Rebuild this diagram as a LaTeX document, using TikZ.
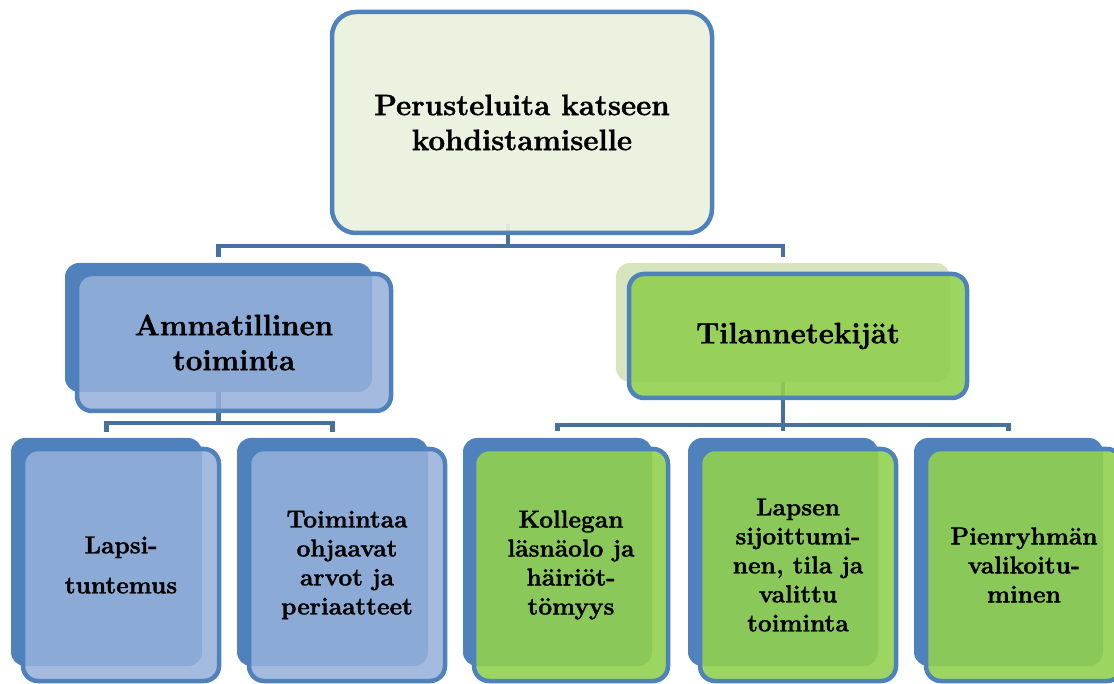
\documentclass[tikz,border=0pt]{standalone}
\usepackage{fontspec}
\setmainfont{Latin Modern Roman}[BoldFeatures={FakeBold=1.3}]
\definecolor{boxblue}{RGB}{79,129,189}
\definecolor{lightblue}{RGB}{150,177,218}
\definecolor{greenfront}{RGB}{146,208,80}
\definecolor{palegreen}{RGB}{215,228,189}
\definecolor{topfill}{RGB}{235,241,222}
\definecolor{connblue}{RGB}{70,112,160}
\tikzset{
  conn/.style={draw=connblue, line width=4.5pt},
  backblue/.style={fill=boxblue, rounded corners=14pt, inner sep=0pt},
  backgreen/.style={fill=palegreen, rounded corners=14pt, inner sep=0pt},
  frontbox/.style={draw=boxblue, line width=4.5pt, rounded corners=15pt, text opacity=1, align=center, inner sep=0pt},
  frontblue/.style={frontbox, fill=lightblue, fill opacity=0.87},
  frontgreen/.style={frontbox, fill=greenfront, fill opacity=0.9},
  bigtext/.style={font=\bfseries\fontsize{29.5}{35}\selectfont},
  smalltext/.style={font=\bfseries\fontsize{24.5}{29}\selectfont}
}
\begin{document}
\begin{tikzpicture}[x=1pt,y=-1pt]
\useasboundingbox (0,0) rectangle (1114,684);
\clip (0,0) rectangle (1114,684);

% back boxes
\node[backblue, minimum width=307, minimum height=129] (ammback) at (218.5,327.5) {};
\node[backgreen, minimum width=334, minimum height=119] (tilback) at (783,322.5) {};
\node[backblue, minimum width=191, minimum height=228] (b1back) at (106.5,552) {};
\node[backblue, minimum width=191, minimum height=228] (b2back) at (332.5,552) {};
\node[backblue, minimum width=189, minimum height=228] (b3back) at (557.5,552) {};
\node[backblue, minimum width=190, minimum height=228] (b4back) at (783,552) {};
\node[backblue, minimum width=189, minimum height=228] (b5back) at (1008.5,552) {};

\coordinate (topc) at (522,122.5);
\coordinate (topdrop) at (508,224);
\coordinate (bus1) at (0,246);
\coordinate (bus2) at (0,423);
\coordinate (bus3) at (0,425);

% connectors
\draw[conn] (topdrop) -- (topdrop |- bus1);
\draw[conn] ([yshift=6pt]ammback.north) -- (ammback.north |- bus1) -- (tilback.north |- bus1) -- ([yshift=6pt]tilback.north);
\draw[conn] (ammback.south) -- (ammback.south |- bus2);
\draw[conn] ([yshift=6pt]b1back.north) -- (b1back.north |- bus2) -- (b2back.north |- bus2) -- ([yshift=6pt]b2back.north);
\draw[conn] (tilback.south) -- (tilback.south |- bus3);
\draw[conn] ([yshift=7pt]b3back.north) -- (b3back.north |- bus3) -- (b5back.north |- bus3) -- ([yshift=7pt]b5back.north);
\draw[conn] (b4back.north |- bus3) -- ([yshift=7pt]b4back.north);

% top box
\node[frontbox, fill=topfill, fill opacity=0.93, rounded corners=24pt, minimum width=380, minimum height=221, bigtext] (top) at (topc) {Perusteluita katseen\\kohdistamiselle};

% front boxes
\node[frontblue, minimum width=314, minimum height=137, bigtext] (amm) at (234,342.5) {Ammatillinen\\toiminta};
\node[frontgreen, minimum width=338, minimum height=124, bigtext] (til) at (798,336) {Tilannetekijät};

\node[frontblue, minimum width=196, minimum height=232, smalltext] (b1) at (121,565) {Lapsi-\\[11pt]tuntemus};
\node[frontblue, minimum width=196, minimum height=232, smalltext] (b2) at (347,565) {Toimintaa\\ohjaavat\\arvot ja\\periaatteet};
\node[frontgreen, minimum width=194, minimum height=232, smalltext] (b3) at (571,565) {Kollegan\\läsnäolo ja\\häiriöt-\\tömyys};
\node[frontgreen, minimum width=196, minimum height=232, smalltext] (b4) at (798,565) {Lapsen\\sijoittumi-\\nen, tila ja\\valittu\\toiminta};
\node[frontgreen, minimum width=196, minimum height=232, smalltext] (b5) at (1024,565) {Pienryhmän\\valikoitu-\\minen};
\end{tikzpicture}
\end{document}
